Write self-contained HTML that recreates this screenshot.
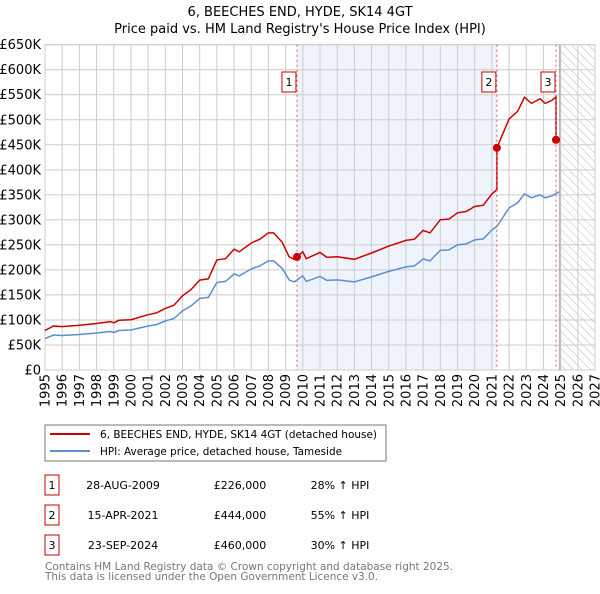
<!DOCTYPE html>
<html><head><meta charset="utf-8"><style>
body{margin:0;background:#fff;width:600px;height:590px;overflow:hidden;font-family:"DejaVu Sans","Liberation Sans",sans-serif}
svg text{font-family:"DejaVu Sans","Liberation Sans",sans-serif}
</style></head><body>
<svg id="c" width="600" height="590" xmlns="http://www.w3.org/2000/svg">
<defs><pattern id="hatch" width="6" height="6" patternUnits="userSpaceOnUse" patternTransform="rotate(-45)"><line x1="0" y1="0" x2="0" y2="6" stroke="#bbb" stroke-width="1"/></pattern></defs>
<text x="300" y="16" text-anchor="middle" font-size="13">6, BEECHES END, HYDE, SK14 4GT</text>
<text x="300" y="33" text-anchor="middle" font-size="13">Price paid vs. HM Land Registry's House Price Index (HPI)</text>
<g id="plot"></g>
<rect x="45" y="425" width="341" height="36" fill="#fff" stroke="#777"/>
<line x1="50" y1="434" x2="90" y2="434" stroke="#cc0000" stroke-width="2"/>
<text x="100" y="438" font-size="11" textLength="277" lengthAdjust="spacingAndGlyphs">6, BEECHES END, HYDE, SK14 4GT (detached house)</text>
<line x1="50" y1="451" x2="90" y2="451" stroke="#5b8fd4" stroke-width="2"/>
<text x="100" y="455" font-size="11" textLength="242" lengthAdjust="spacingAndGlyphs">HPI: Average price, detached house, Tameside</text>
<g id="table" font-size="11"></g>
<text x="45" y="570" font-size="11" fill="#777" textLength="408" lengthAdjust="spacingAndGlyphs">Contains HM Land Registry data © Crown copyright and database right 2025.</text>
<text x="45" y="580" font-size="11" fill="#777" textLength="333" lengthAdjust="spacingAndGlyphs">This data is licensed under the Open Government Licence v3.0.</text>
</svg>
<script>
const hpiYears=[1995,1995.5,1996,1997,1998,1998.8,1999,1999.3,2000,2001,2001.5,2002,2002.5,2003,2003.5,2004,2004.5,2005,2005.5,2006,2006.3,2007,2007.5,2008,2008.3,2008.8,2009.2,2009.5,2010,2010.2,2011,2011.4,2012,2013,2014,2015,2016,2016.5,2017,2017.4,2018,2018.5,2019,2019.5,2020,2020.5,2021,2021.3,2022,2022.5,2022.9,2023.3,2023.8,2024.1,2024.5,2024.9];
const hpiValues=[63,70,69,71,74,77,75,79,80,88,91,98,103,118,128,143,145,175,177,192,188,202,208,218,218,203,180,176,188,177,187,179,180,176,186,197,206,208,222,218,239,240,250,252,260,262,280,287,324,334,352,344,350,344,348,356];
const saleDates=[2009.66,2021.29,2024.73];
const salePrices=[226,444,460];
const saleLabels=['1','2','3'];
const saleDateText=['28-AUG-2009','15-APR-2021','23-SEP-2024'];
const salePriceText=['£226,000','£444,000','£460,000'];
const saleDiffText=['28% ↑ HPI','55% ↑ HPI','30% ↑ HPI'];
const yTicks=[0,50,100,150,200,250,300,350,400,450,500,550,600,650];
const xTicks=[1995,1996,1997,1998,1999,2000,2001,2002,2003,2004,2005,2006,2007,2008,2009,2010,2011,2012,2013,2014,2015,2016,2017,2018,2019,2020,2021,2022,2023,2024,2025,2026,2027];

const L=45,R=595,T=44.7,B=370;
const X=t=>L+(t-1995)*(R-L)/32;
const Y=v=>B-v*(B-T)/650;
const NS='http://www.w3.org/2000/svg';
const plot=document.getElementById('plot');
function mk(tag,attrs,parent){const e=document.createElementNS(NS,tag);for(const k in attrs)e.setAttribute(k,attrs[k]);(parent||plot).appendChild(e);return e;}
function hpiAt(t){for(let i=1;i<hpiYears.length;i++){if(t<=hpiYears[i]){const f=(t-hpiYears[i-1])/(hpiYears[i]-hpiYears[i-1]);return hpiValues[i-1]+f*(hpiValues[i]-hpiValues[i-1]);}}return hpiValues[hpiValues.length-1];}

let e=mk('rect',{x:X(saleDates[0]),y:T,width:X(saleDates[1])-X(saleDates[0]),height:B-T,fill:'#eef3fc'});


e=mk('rect',{x:X(2025),y:T,width:R-X(2025),height:B-T,fill:'url(#hatch)'});


yTicks.forEach(v=>{
 const g=mk('line',{x1:L,x2:R,y1:Y(v),y2:Y(v),stroke:'#ccc'});
 
 
 const t=mk('text',{x:L-4,y:Y(v)+4.5,'text-anchor':'end','font-size':'13'});t.textContent=v===0?'£0':'£'+v+'K';
 
 
});
xTicks.forEach(yr=>{
 const g=mk('line',{x1:X(yr),x2:X(yr),y1:T,y2:B,stroke:'#ccc'});
 
 
 const t=mk('text',{x:0,y:0,'text-anchor':'end','font-size':'13',transform:`translate(${X(yr)+4.5},374) rotate(-90)`});t.textContent=yr;
 
 
});
e=mk('rect',{x:L,y:T,width:R-L,height:B-T,fill:'none',stroke:'#ccc'});


e=mk('line',{x1:X(2024.95),x2:X(2024.95),y1:T,y2:B,stroke:'#999'});


let d=hpiYears.map((t,i)=>(i?'L':'M')+X(t).toFixed(1)+','+Y(hpiValues[i]).toFixed(1)).join('');
e=mk('path',{d:d,fill:'none',stroke:'#5b8fd4','stroke-width':1.5});


let pts=[];
function seg(t0,t1,ref){hpiYears.forEach((t,i)=>{if(t>=t0&&t<t1)pts.push([t,hpiValues[i]*ref]);});}
const r0=salePrices[0]/hpiAt(saleDates[0]);
seg(1995,saleDates[1],r0);pts.push([saleDates[1],hpiAt(saleDates[1])*r0]);
pts.push([saleDates[1]+0.0001,salePrices[1]]);
const r1=salePrices[1]/hpiAt(saleDates[1]);
seg(saleDates[1]+0.001,saleDates[2],r1);pts.push([saleDates[2],hpiAt(saleDates[2])*r1]);
pts.push([saleDates[2]+0.0001,salePrices[2]]);
pts.sort((a,b)=>a[0]-b[0]);
d=pts.map((p,i)=>(i?'L':'M')+X(p[0]).toFixed(1)+','+Y(p[1]).toFixed(1)).join('');
e=mk('path',{d:d,fill:'none',stroke:'#cc0000','stroke-width':1.5});


saleDates.forEach((t,i)=>{
 const l=mk('line',{x1:X(t),x2:X(t),y1:T,y2:B,stroke:'#e06060','stroke-dasharray':'2,3'});
 
 
 const c=mk('circle',{cx:X(t),cy:Y(salePrices[i]),r:4,fill:'#cc0000'});
 
 
 const b=mk('rect',{x:X(t)-15,y:72,width:14,height:20,fill:'#fff',stroke:'#cc0000'});
 
 
 const tx=mk('text',{x:X(t)-8,y:86,'text-anchor':'middle','font-size':'11'});tx.textContent=saleLabels[i];
 
 
});
const tb=document.getElementById('table');
saleDates.forEach((t,i)=>{
 const y=475+i*30;
 const b=mk('rect',{x:45,y:y,width:14,height:20,fill:'#fff',stroke:'#cc0000'},tb);
 
 
 const cols=[[52,saleLabels[i],'table-sale-number'],[123,saleDateText[i],'table-sale-date'],[240,salePriceText[i],'table-sale-price'],[340,saleDiffText[i],'table-hpi-diff']];
 cols.forEach(c=>{const tx=mk('text',{x:c[0],y:y+14,'text-anchor':'middle'},tb);tx.textContent=c[1];
  
  });
});
</script>
</body></html>
